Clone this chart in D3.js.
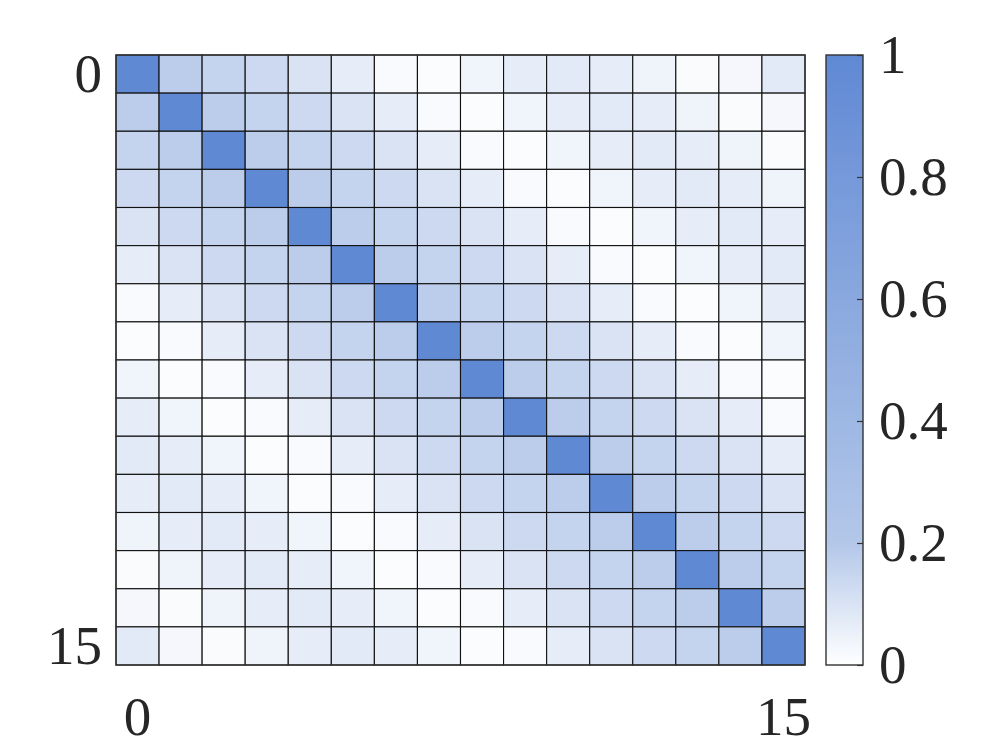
<!DOCTYPE html>
<html>
<head>
<meta charset="utf-8">
<script src="https://cdn.jsdelivr.net/npm/d3@7"></script>
<style>
  html, body { margin: 0; padding: 0; background: #ffffff; }
  svg { display: block; }
</style>
</head>
<body>
<svg id="chart" width="996" height="747"></svg>
<script>
// ---- data ----
const rowLabels = d3.range(16);
const colLabels = d3.range(16);
const axisTickValues = [0, 15];
const colorbarTicks = [0, 0.2, 0.4, 0.6, 0.8, 1];
const colorDomain = [0, 0.2, 1];
const colorRange = ["#ffffff", "#b3c7e9", "#6089d4"];

const matrix = [
  [1.00,0.18,0.155,0.135,0.10,0.066,0.018,0.012,0.040,0.066,0.074,0.066,0.042,0.015,0.027,0.074],
  [0.18,1.00,0.18,0.155,0.135,0.10,0.066,0.018,0.012,0.040,0.066,0.074,0.066,0.042,0.015,0.027],
  [0.155,0.18,1.00,0.18,0.155,0.135,0.10,0.066,0.018,0.012,0.040,0.066,0.074,0.066,0.042,0.015],
  [0.135,0.155,0.18,1.00,0.18,0.155,0.135,0.10,0.066,0.018,0.012,0.040,0.066,0.074,0.066,0.042],
  [0.10,0.135,0.155,0.18,1.00,0.18,0.155,0.135,0.10,0.066,0.018,0.012,0.040,0.066,0.074,0.066],
  [0.066,0.10,0.135,0.155,0.18,1.00,0.18,0.155,0.135,0.10,0.066,0.018,0.012,0.040,0.066,0.074],
  [0.018,0.066,0.10,0.135,0.155,0.18,1.00,0.18,0.155,0.135,0.10,0.066,0.018,0.012,0.040,0.066],
  [0.012,0.018,0.066,0.10,0.135,0.155,0.18,1.00,0.18,0.155,0.135,0.10,0.066,0.018,0.012,0.040],
  [0.040,0.012,0.018,0.066,0.10,0.135,0.155,0.18,1.00,0.18,0.155,0.135,0.10,0.066,0.018,0.012],
  [0.066,0.040,0.012,0.018,0.066,0.10,0.135,0.155,0.18,1.00,0.18,0.155,0.135,0.10,0.066,0.018],
  [0.074,0.066,0.040,0.012,0.018,0.066,0.10,0.135,0.155,0.18,1.00,0.18,0.155,0.135,0.10,0.066],
  [0.066,0.074,0.066,0.040,0.012,0.018,0.066,0.10,0.135,0.155,0.18,1.00,0.18,0.155,0.135,0.10],
  [0.042,0.066,0.074,0.066,0.040,0.012,0.018,0.066,0.10,0.135,0.155,0.18,1.00,0.18,0.155,0.135],
  [0.015,0.042,0.066,0.074,0.066,0.040,0.012,0.018,0.066,0.10,0.135,0.155,0.18,1.00,0.18,0.155],
  [0.027,0.015,0.042,0.066,0.074,0.066,0.040,0.012,0.018,0.066,0.10,0.135,0.155,0.18,1.00,0.18],
  [0.074,0.027,0.015,0.042,0.066,0.074,0.066,0.040,0.012,0.018,0.066,0.10,0.135,0.155,0.18,1.00]
];

// ---- layout ----
const plot = { left: 116, right: 805, top: 55, bottom: 665 };
const cbar = { left: 826, right: 863, top: 55, bottom: 665 };
const FONT = "'Liberation Serif', 'DejaVu Serif', serif";
const FONT_SIZE = 55;
const TEXT_COLOR = "#262626";

const svg = d3.select("#chart");

const x = d3.scaleBand().domain(colLabels).range([plot.left, plot.right]);
const y = d3.scaleBand().domain(rowLabels).range([plot.top, plot.bottom]);
const color = d3.scaleLinear().domain(colorDomain).range(colorRange).interpolate(d3.interpolateRgb);

const cells = [];
matrix.forEach((row, i) => row.forEach((v, j) => cells.push({ r: rowLabels[i], c: colLabels[j], v })));

svg.append("g")
  .selectAll("rect")
  .data(cells)
  .join("rect")
  .attr("x", d => x(d.c))
  .attr("y", d => y(d.r))
  .attr("width", x.bandwidth())
  .attr("height", y.bandwidth())
  .attr("fill", d => color(d.v))
  .attr("stroke", "#111111")
  .attr("stroke-width", 1.1);

// outer frame
svg.append("rect")
  .attr("x", plot.left).attr("y", plot.top)
  .attr("width", plot.right - plot.left).attr("height", plot.bottom - plot.top)
  .attr("fill", "none").attr("stroke", "#333333").attr("stroke-width", 1.4);

// axes
const styleAxis = g => {
  g.select(".domain").remove();
  g.selectAll(".tick line").remove();
  g.selectAll("text")
    .attr("font-family", FONT)
    .attr("font-size", FONT_SIZE)
    .attr("fill", TEXT_COLOR);
};

svg.append("g")
  .attr("transform", `translate(${plot.left},0)`)
  .call(d3.axisLeft(y).tickValues(axisTickValues).tickSize(0).tickPadding(14))
  .call(styleAxis);

svg.append("g")
  .attr("transform", `translate(0,${plot.bottom})`)
  .call(d3.axisBottom(x).tickValues(axisTickValues).tickSize(0).tickPadding(31))
  .call(styleAxis);

// colorbar
const cy = d3.scaleLinear().domain([0, 1]).range([cbar.bottom, cbar.top]);
const defs = svg.append("defs");
const grad = defs.append("linearGradient")
  .attr("id", "cbgrad")
  .attr("x1", "0").attr("y1", "1").attr("x2", "0").attr("y2", "0");
grad.selectAll("stop")
  .data(d3.range(0, 1.0001, 0.02))
  .join("stop")
  .attr("offset", d => d)
  .attr("stop-color", d => color(d));

svg.append("rect")
  .attr("x", cbar.left).attr("y", cbar.top)
  .attr("width", cbar.right - cbar.left).attr("height", cbar.bottom - cbar.top)
  .attr("fill", "url(#cbgrad)")
  .attr("stroke", "#333333").attr("stroke-width", 1.4);

const cAxis = svg.append("g")
  .attr("transform", `translate(${cbar.right},0)`)
  .call(d3.axisRight(cy).tickValues(colorbarTicks).tickSizeInner(-6).tickSizeOuter(0)
    .tickPadding(16).tickFormat(d => d3.format("")(+d.toFixed(1))));
cAxis.select(".domain").remove();
cAxis.selectAll(".tick line").attr("stroke", "#333333").attr("stroke-width", 1.2);
cAxis.selectAll("text")
  .attr("font-family", FONT)
  .attr("font-size", FONT_SIZE)
  .attr("fill", TEXT_COLOR);
</script>
</body>
</html>
